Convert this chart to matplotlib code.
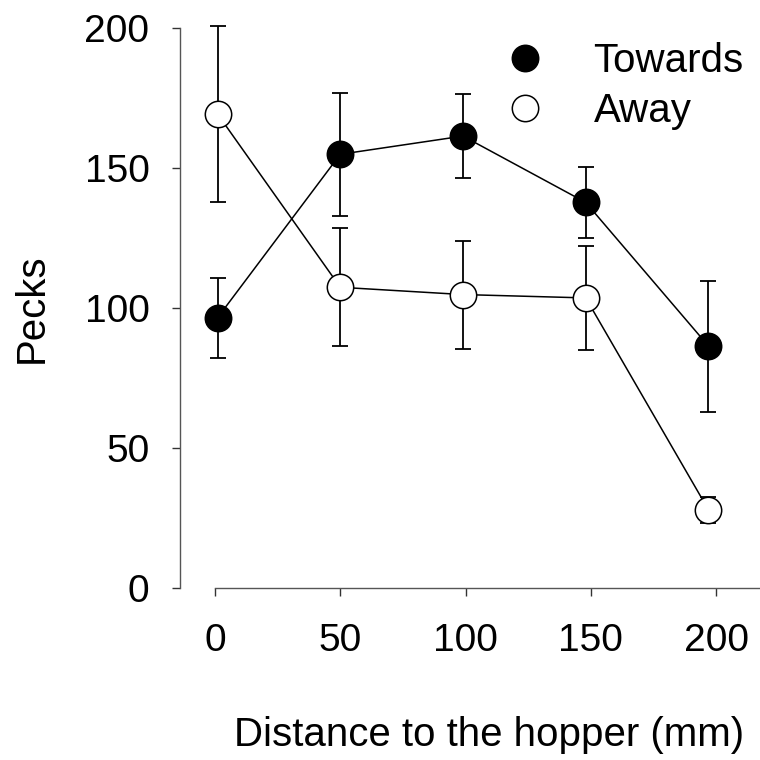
import matplotlib
matplotlib.use("Agg")
import matplotlib.pyplot as plt

# distance to the hopper (mm) as plotted
x_towards = [1, 50, 99, 148, 197]
x_away = [1, 50, 99, 148, 197]

towards_mean = [96.5, 154.9, 161.4, 137.7, 86.4]
towards_err = [14.2, 22.0, 15.0, 12.6, 23.4]

away_mean = [169.3, 107.4, 104.8, 103.6, 27.9]
away_err = [31.3, 21.0, 19.3, 18.7, 4.7]

x_ticks = [0, 50, 100, 150, 200]
y_ticks = [0, 50, 100, 150, 200]

plt.rcParams['font.family'] = ['Liberation Sans', 'DejaVu Sans']
FS = 29
TFS = 28

fig = plt.figure(figsize=(7.6, 7.6), dpi=100)
ax = fig.add_axes([180 / 760, 172 / 760, 580 / 760, 560 / 760])

# error bars first, then lines + markers on top
for xs, m, e in [(x_towards, towards_mean, towards_err), (x_away, away_mean, away_err)]:
    eb = ax.errorbar(xs, m, yerr=e, fmt='none', ecolor='black', elinewidth=1.3,
                     capsize=6, capthick=1.3, zorder=1)
    for art in eb.lines[1] + eb.lines[2]:
        art.set_clip_on(False)

ln_t, = ax.plot(x_towards, towards_mean, color='black', lw=1.1, marker='o',
                markersize=19, markerfacecolor='black', markeredgecolor='black',
                markeredgewidth=1.1, zorder=3)
ln_a, = ax.plot(x_away, away_mean, color='black', lw=1.1, marker='o',
                markersize=19, markerfacecolor='white', markeredgecolor='black',
                markeredgewidth=1.1, zorder=3)

xmin = -35 / 2.505
xmax = 545 / 2.505
ax.set_xlim(xmin, xmax)
ax.set_ylim(0, 200)

for side in ['top', 'right']:
    ax.spines[side].set_visible(False)
ax.spines['bottom'].set_bounds(0, xmax)
ax.spines['left'].set_bounds(0, 200)
for side in ['left', 'bottom']:
    ax.spines[side].set_color('#555555')
    ax.spines[side].set_linewidth(1.0)

ax.set_xticks(x_ticks)
ax.set_yticks(y_ticks)
ax.tick_params(axis='both', labelsize=TFS, length=6, width=1.0, color='#333333')
ax.tick_params(axis='x', pad=19)
ax.tick_params(axis='y', pad=16)

ax.set_ylabel('Pecks', fontsize=FS, labelpad=24)
ax.set_xlabel('Distance to the hopper (mm)', fontsize=FS, va='center')
ax.xaxis.set_label_coords(0.533, -0.262)

# plain marker handles for the legend
h_t = plt.Line2D([], [], linestyle='none', marker='o', markersize=19,
                 markerfacecolor='black', markeredgecolor='black', markeredgewidth=1.1)
h_a = plt.Line2D([], [], linestyle='none', marker='o', markersize=19,
                 markerfacecolor='white', markeredgecolor='black', markeredgewidth=1.1)
ax.legend([h_t, h_a], ['Towards', 'Away'], loc='upper left',
          bbox_to_anchor=(505 / 760, 1 - 42 / 760), bbox_transform=fig.transFigure,
          frameon=False, fontsize=FS, handlelength=1.0, handletextpad=1.2,
          borderpad=0, borderaxespad=0, labelspacing=0.3)

fig.savefig('out.png', dpi=100)
